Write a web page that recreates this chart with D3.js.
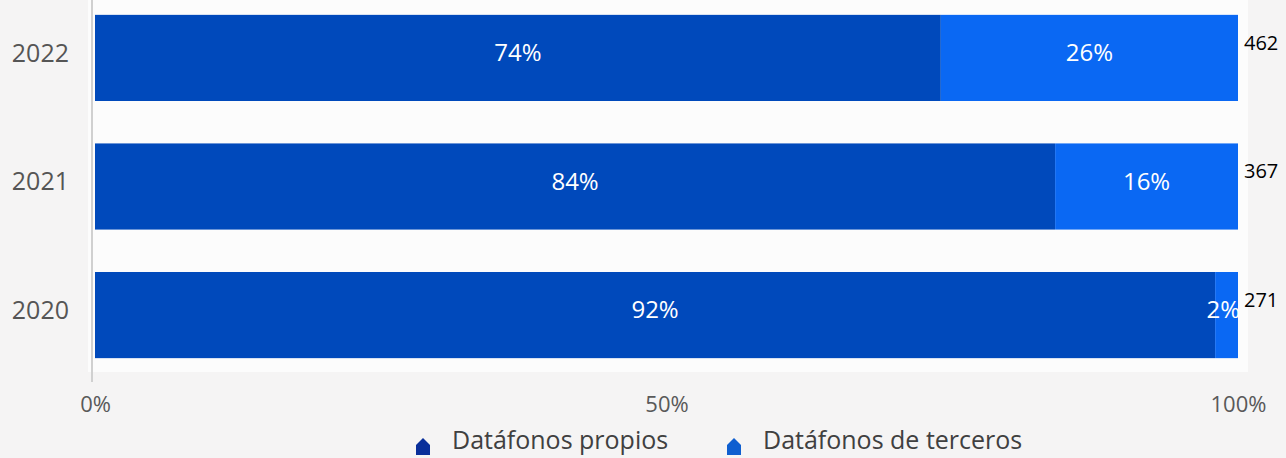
<!DOCTYPE html>
<html>
<head>
<meta charset="utf-8">
<script src="https://cdn.jsdelivr.net/npm/d3@7"></script>
<style>
  html, body { margin: 0; padding: 0; background: #f5f4f4; }
  svg { display: block; font-family: "Open Sans", "Noto Sans", sans-serif; }
</style>
</head>
<body>
<svg id="chart" width="1286" height="458"></svg>
<script>
'use strict';

const years = ['2022', '2021', '2020'];
const propios = [74, 84, 98];
const terceros = [26, 16, 2];
const propiosLabels = ['74%', '84%', '92%'];
const tercerosLabels = ['26%', '16%', '2%'];
const totals = [462, 367, 271];
const ticks = [0, 50, 100];
const legendNames = ['Datáfonos propios', 'Datáfonos de terceros'];

function Main() {
  const svg = d3.select('#chart');
  const kDark = '#0049bb';
  const kLight = '#0a68f3';
  const kLift = -5;

  const x = d3.scaleLinear().domain([0, 100]).range([95, 1238]);
  const y = d3.scaleBand().domain(years).range([-7, 380]).paddingInner(0.33).paddingOuter(0.17);

  svg.append('rect').attr('x', 88).attr('y', 0).attr('width', 1160).attr('height', 372)
      .attr('fill', '#fcfcfc');

  // vertical axis line
  svg.append('line')
      .attr('x1', 92).attr('x2', 92).attr('y1', 0).attr('y2', 382)
      .attr('stroke', '#d0d0d0').attr('stroke-width', 2);

  const rows = years.map(function(yr, i) {
    return { year: yr, p: propios[i], t: terceros[i], pl: propiosLabels[i], tl: tercerosLabels[i], total: totals[i] };
  });

  const g = svg.selectAll('g.row').data(rows).enter().append('g').attr('class', 'row');

  g.append('rect')
      .attr('x', x(0))
      .attr('y', function(d) { return y(d.year); })
      .attr('width', function(d) { return x(d.p) - x(0); })
      .attr('height', y.bandwidth())
      .attr('fill', kDark);

  g.append('rect')
      .attr('x', function(d) { return x(d.p); })
      .attr('y', function(d) { return y(d.year); })
      .attr('width', function(d) { return x(d.p + d.t) - x(d.p); })
      .attr('height', y.bandwidth())
      .attr('fill', kLight);

  g.append('text')
      .attr('x', function(d) { return x(d.p / 2); })
      .attr('y', function(d) { return y(d.year) + y.bandwidth() / 2 + kLift; })
      .attr('dy', '0.35em').attr('text-anchor', 'middle')
      .attr('fill', '#fff').attr('font-size', 24)
      .text(function(d) { return d.pl; });

  g.append('text')
      .attr('x', function(d) { return d.t < 5 ? x(100) + 2 : x(d.p + d.t / 2); })
      .attr('y', function(d) { return y(d.year) + y.bandwidth() / 2 + kLift; })
      .attr('dy', '0.35em')
      .attr('text-anchor', function(d) { return d.t < 5 ? 'end' : 'middle'; })
      .attr('fill', '#fff').attr('font-size', 24)
      .text(function(d) { return d.tl; });

  g.append('text')
      .attr('x', x(100) + 6)
      .attr('y', function(d) { return y(d.year) + 35; })
      .attr('fill', '#000').attr('font-size', 20)
      .text(function(d) { return d.total; });

  g.append('text')
      .attr('x', 69)
      .attr('y', function(d) { return y(d.year) + y.bandwidth() / 2 + kLift; })
      .attr('dy', '0.35em').attr('text-anchor', 'end')
      .attr('fill', '#555').attr('font-size', 25)
      .text(function(d) { return d.year; });

  // x axis
  const axis = svg.append('g').attr('transform', 'translate(0,386)')
      .call(d3.axisBottom(x).tickValues(ticks).tickSize(0).tickPadding(10)
        .tickFormat(function(v) { return v + '%'; }));
  axis.select('.domain').remove();
  axis.selectAll('text').attr('fill', '#595959').attr('font-size', 22)
      .attr('font-family', '"Open Sans", "Noto Sans", sans-serif');

  // legend
  const legendX = [416, 727];
  const leg = svg.selectAll('g.leg').data(legendNames).enter().append('g').attr('class', 'leg')
      .attr('transform', function(d, i) { return 'translate(' + legendX[i] + ',440)'; });
  leg.append('path')
      .attr('d', 'M0,5 L7,-2 L14,5 L14,15 L0,15 Z')
      .attr('fill', function(d, i) { return i === 0 ? '#0a2f9a' : '#0f5fd0'; });
  leg.append('text')
      .attr('x', 36).attr('y', 0).attr('dy', '0.35em')
      .attr('fill', '#404040').attr('font-size', 25)
      .text(function(d) { return d; });
}

Main();
</script>
</body>
</html>
